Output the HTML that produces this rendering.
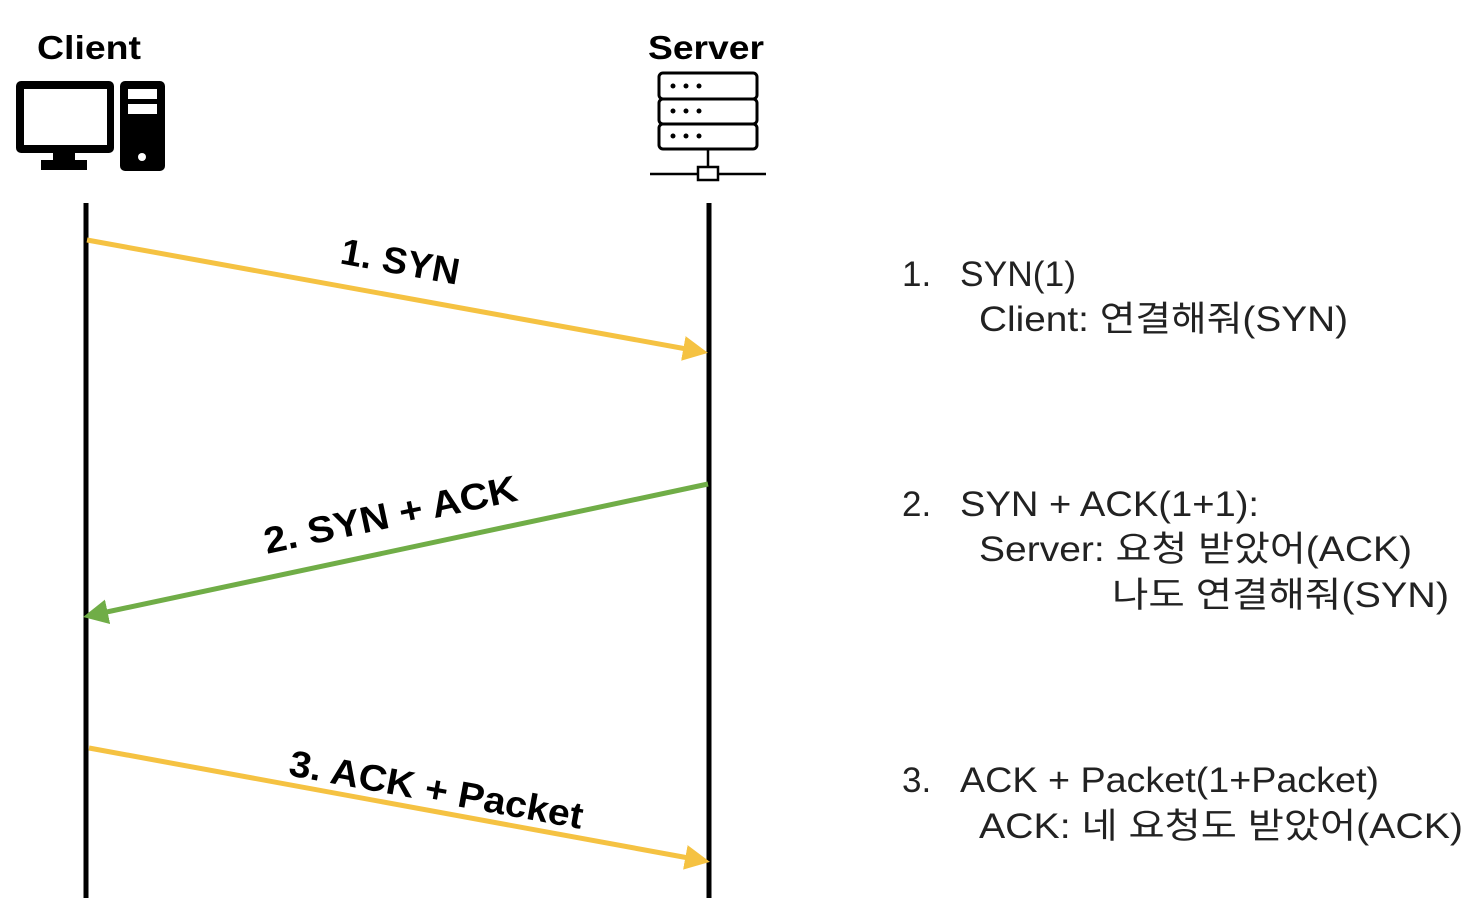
<!DOCTYPE html>
<html><head><meta charset="utf-8"><style>
html,body{margin:0;padding:0;background:#fff;}
svg{display:block;}
.t{font-family:"Liberation Sans","Noto Sans CJK KR",sans-serif;font-size:35px;fill:#222;}
.b{font-family:"Liberation Sans","Noto Sans CJK KR",sans-serif;font-weight:bold;font-size:33px;fill:#000;}
.l{font-family:"Liberation Sans",sans-serif;font-weight:bold;font-size:37px;fill:#000;}
</style></head><body>
<svg width="1484" height="898" viewBox="0 0 1484 898" xmlns="http://www.w3.org/2000/svg">
<defs>
<marker id="ay" markerWidth="5" markerHeight="5" refX="4" refY="2.5" orient="auto" markerUnits="strokeWidth"><path d="M0,0 L5,2.5 L0,5 Z" fill="#F5C242"/></marker>
<marker id="ag" markerWidth="5" markerHeight="5" refX="4" refY="2.5" orient="auto" markerUnits="strokeWidth"><path d="M0,0 L5,2.5 L0,5 Z" fill="#70AD47"/></marker>
</defs>
<text x="89" y="59" class="b" text-anchor="middle" textLength="104" lengthAdjust="spacingAndGlyphs">Client</text>
<text x="706" y="59" class="b" text-anchor="middle" textLength="116" lengthAdjust="spacingAndGlyphs">Server</text>
<rect x="16" y="81" width="98" height="72" rx="5" fill="#000"/>
<rect x="24" y="89" width="83" height="56" fill="#fff"/>
<rect x="53" y="153" width="22" height="10" fill="#000"/>
<rect x="41" y="160" width="46" height="10" fill="#000"/>
<rect x="120" y="81" width="45" height="90" rx="5" fill="#000"/>
<rect x="128" y="89" width="29" height="10" fill="#fff"/>
<rect x="128" y="104" width="29" height="10" fill="#fff"/>
<circle cx="142" cy="157" r="4" fill="#fff"/>
<g fill="#fff" stroke="#000" stroke-width="3">
<rect x="659" y="73" width="98" height="26" rx="4"/>
<rect x="659" y="99" width="98" height="25" rx="4"/>
<rect x="659" y="124" width="98" height="25" rx="4"/>
</g>
<g fill="#000">
<circle cx="673" cy="86" r="2.5"/><circle cx="686" cy="86" r="2.5"/><circle cx="699" cy="86" r="2.5"/>
<circle cx="673" cy="111" r="2.5"/><circle cx="686" cy="111" r="2.5"/><circle cx="699" cy="111" r="2.5"/>
<circle cx="673" cy="136" r="2.5"/><circle cx="686" cy="136" r="2.5"/><circle cx="699" cy="136" r="2.5"/>
</g>
<line x1="708" y1="149" x2="708" y2="167" stroke="#000" stroke-width="2.5"/>
<line x1="650" y1="174" x2="766" y2="174" stroke="#000" stroke-width="2.5"/>
<rect x="698" y="167" width="20" height="13" fill="#fff" stroke="#000" stroke-width="2.5"/>
<line x1="86" y1="203" x2="86" y2="898" stroke="#000" stroke-width="5"/>
<line x1="709" y1="203" x2="709" y2="898" stroke="#000" stroke-width="5"/>
<line x1="87" y1="240" x2="703" y2="352" stroke="#F5C242" stroke-width="5" marker-end="url(#ay)"/>
<line x1="708" y1="484" x2="88" y2="616" stroke="#70AD47" stroke-width="5" marker-end="url(#ag)"/>
<line x1="89" y1="748" x2="705" y2="861" stroke="#F5C242" stroke-width="5" marker-end="url(#ay)"/>
<text class="l" transform="translate(398,274) rotate(10.3)" text-anchor="middle" textLength="120" lengthAdjust="spacingAndGlyphs">1. SYN</text>
<text class="l" transform="translate(393,527) rotate(-12)" text-anchor="middle" textLength="258" lengthAdjust="spacingAndGlyphs">2. SYN + ACK</text>
<text class="l" transform="translate(434,802) rotate(10.4)" text-anchor="middle" textLength="298" lengthAdjust="spacingAndGlyphs">3. ACK + Packet</text>
<text class="t" x="902" y="286">1.</text>
<text class="t" x="960" y="286" textLength="116" lengthAdjust="spacingAndGlyphs">SYN(1)</text>
<text class="t" x="979" y="331" textLength="369" lengthAdjust="spacingAndGlyphs">Client: 연결해줘(SYN)</text>
<text class="t" x="902" y="516">2.</text>
<text class="t" x="960" y="516" textLength="299" lengthAdjust="spacingAndGlyphs">SYN + ACK(1+1):</text>
<text class="t" x="979" y="561" textLength="433" lengthAdjust="spacingAndGlyphs">Server: 요청 받았어(ACK)</text>
<text class="t" x="1112" y="607" textLength="337" lengthAdjust="spacingAndGlyphs">나도 연결해줘(SYN)</text>
<text class="t" x="902" y="792">3.</text>
<text class="t" x="960" y="792" textLength="419" lengthAdjust="spacingAndGlyphs">ACK + Packet(1+Packet)</text>
<text class="t" x="979" y="838" textLength="484" lengthAdjust="spacingAndGlyphs">ACK: 네 요청도 받았어(ACK)</text>
</svg>
</body></html>
